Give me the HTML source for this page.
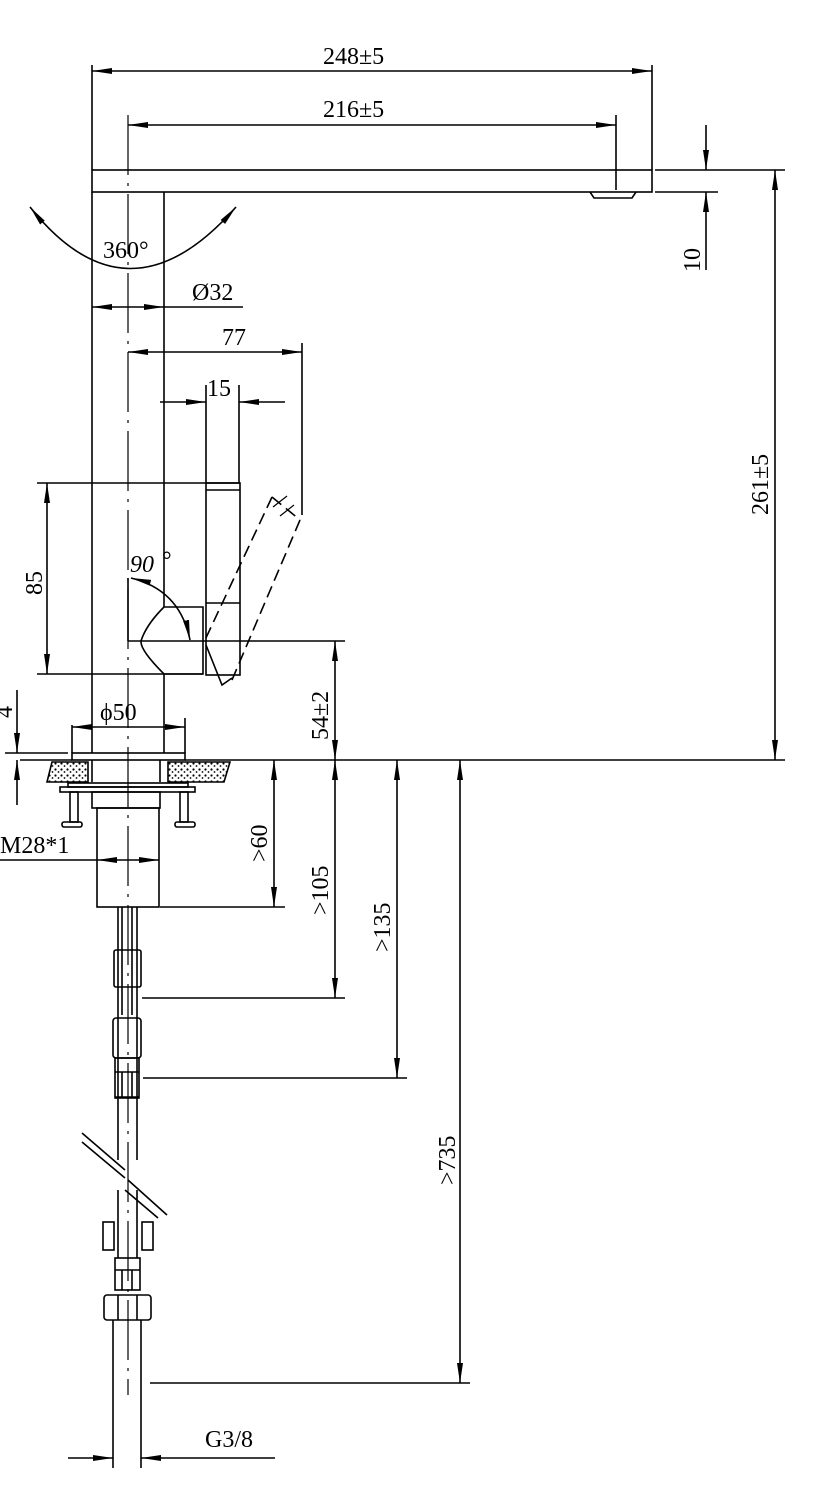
<!DOCTYPE html>
<html><head><style>body{margin:0;background:#fff}svg{display:block}text{font-family:"Liberation Serif",serif;font-size:24px;fill:#000}</style></head>
<body>
<svg width="831" height="1500" viewBox="0 0 831 1500" xmlns="http://www.w3.org/2000/svg">
<defs>
<marker id="a" viewBox="0 0 20 8" refX="20" refY="4" markerWidth="20" markerHeight="8" markerUnits="userSpaceOnUse" orient="auto-start-reverse"><path d="M0,1 L20,4 L0,7z" fill="#000"/></marker>
<pattern id="h" width="6" height="6" patternUnits="userSpaceOnUse"><rect width="6" height="6" fill="#fff"/><circle cx="1.5" cy="1.5" r="1.1" fill="#000"/><circle cx="4.5" cy="4" r="0.9" fill="#000"/></pattern>
</defs>
<g stroke="#000" stroke-width="1.6" fill="none">
<rect x="92" y="170" width="560" height="22"/>
<path d="M590,192 L594,198 L632,198 L636,192"/>
<line x1="92" y1="192" x2="92" y2="753"/>
<line x1="164" y1="192" x2="164" y2="607"/>
<line x1="164" y1="674" x2="164" y2="753"/>
<line x1="128" y1="115" x2="128" y2="1395" stroke-width="1.2" stroke-dasharray="60,8,3,8"/>
<line x1="37" y1="483" x2="240" y2="483"/>
<line x1="37" y1="674" x2="203" y2="674"/>
<rect x="206" y="483" width="34" height="192"/>
<line x1="206" y1="490" x2="240" y2="490"/>
<line x1="206" y1="603" x2="240" y2="603"/>
<line x1="128" y1="578" x2="128" y2="641"/>
<line x1="128" y1="641" x2="345" y2="641"/>
<path d="M164,607 L203,607 L203,674 L164,674 Q140,650 141,641 Q146,625 164,607"/>
<path d="M206,645 L222,685 L232,678"/>
<g stroke-dasharray="12,6"><path d="M272,497 L205,640"/><path d="M300,520 L232,680"/><path d="M272,497 L300,520"/></g>
<line x1="273" y1="507" x2="287" y2="496" stroke-width="1.2"/>
<line x1="280" y1="516" x2="294" y2="505" stroke-width="1.2"/>
<path d="M131,578 Q180,590 190,640" marker-start="url(#a)" marker-end="url(#a)"/>
<path d="M30,207 Q128,330 236,207" marker-start="url(#a)" marker-end="url(#a)"/>
<rect x="72" y="753" width="113" height="7"/>
<line x1="185" y1="760" x2="785" y2="760"/>
<line x1="20" y1="760" x2="72" y2="760"/>
<line x1="5" y1="753" x2="68" y2="753"/>
<path d="M52,762 L88,762 L88,782 L47,782 Z" fill="url(#h)"/>
<path d="M168,762 L230,762 L224,782 L168,782 Z" fill="url(#h)"/>
<line x1="92" y1="760" x2="92" y2="782"/><line x1="160" y1="760" x2="160" y2="782"/>
<rect x="68" y="783" width="120" height="4"/><rect x="60" y="787" width="135" height="5"/>
<rect x="70" y="792" width="8" height="30"/><rect x="180" y="792" width="8" height="30"/>
<rect x="62" y="822" width="20" height="5" rx="2"/><rect x="175" y="822" width="20" height="5" rx="2"/>
<rect x="92" y="792" width="68" height="16"/>
<rect x="97" y="808" width="62" height="99"/>
<!-- hose upper -->
<line x1="118" y1="907" x2="118" y2="1160"/><line x1="137" y1="907" x2="137" y2="1160"/>
<line x1="122" y1="907" x2="122" y2="1015"/><line x1="132" y1="907" x2="132" y2="1015"/>
<rect x="114" y="950" width="27" height="37" rx="2"/>
<rect x="113" y="1018" width="28" height="40" rx="3"/>
<rect x="115" y="1058" width="24" height="40"/>
<line x1="115" y1="1072" x2="139" y2="1072"/><line x1="115" y1="1097" x2="139" y2="1097"/>
<line x1="122" y1="1072" x2="122" y2="1097"/><line x1="132" y1="1072" x2="132" y2="1097"/>
<!-- hose lower -->
<line x1="118" y1="1190" x2="118" y2="1258"/><line x1="137" y1="1190" x2="137" y2="1258"/>
<rect x="103" y="1222" width="11" height="28"/><rect x="142" y="1222" width="11" height="28"/>
<rect x="115" y="1258" width="25" height="32"/>
<line x1="115" y1="1270" x2="140" y2="1270"/>
<line x1="122" y1="1270" x2="122" y2="1290"/><line x1="132" y1="1270" x2="132" y2="1290"/>
<rect x="104" y="1295" width="47" height="25" rx="3"/>
<line x1="118" y1="1295" x2="118" y2="1320"/><line x1="137" y1="1295" x2="137" y2="1320"/>
<!-- break -->
<line x1="82" y1="1133" x2="125" y2="1170"/>
<line x1="82" y1="1142" x2="125" y2="1178"/>
<line x1="128" y1="1180" x2="167" y2="1215"/><line x1="125" y1="1190" x2="158" y2="1218"/>
<line x1="113" y1="1320" x2="113" y2="1468"/><line x1="141" y1="1320" x2="141" y2="1468"/>
<line x1="68" y1="1458" x2="113" y2="1458" marker-end="url(#a)"/>
<line x1="275" y1="1458" x2="141" y2="1458" marker-end="url(#a)"/>
<line x1="92" y1="65" x2="92" y2="170"/><line x1="652" y1="65" x2="652" y2="170"/>
<line x1="92" y1="71" x2="652" y2="71" marker-start="url(#a)" marker-end="url(#a)"/>
<line x1="616" y1="115" x2="616" y2="190"/>
<line x1="128" y1="125" x2="616" y2="125" marker-start="url(#a)" marker-end="url(#a)"/>
<line x1="92" y1="307" x2="164" y2="307" marker-start="url(#a)" marker-end="url(#a)"/>
<line x1="164" y1="307" x2="243" y2="307"/>
<line x1="302" y1="343" x2="302" y2="515"/>
<line x1="128" y1="352" x2="302" y2="352" marker-start="url(#a)" marker-end="url(#a)"/>
<line x1="206" y1="385" x2="206" y2="483"/><line x1="239" y1="385" x2="239" y2="483"/>
<line x1="160" y1="402" x2="206" y2="402" marker-end="url(#a)"/>
<line x1="285" y1="402" x2="239" y2="402" marker-end="url(#a)"/>
<line x1="47" y1="483" x2="47" y2="674" marker-start="url(#a)" marker-end="url(#a)"/>
<line x1="17" y1="690" x2="17" y2="753" marker-end="url(#a)"/>
<line x1="17" y1="805" x2="17" y2="760" marker-end="url(#a)"/>
<line x1="335" y1="641" x2="335" y2="760" marker-start="url(#a)" marker-end="url(#a)"/>
<line x1="72" y1="725" x2="72" y2="753"/><line x1="185" y1="718" x2="185" y2="753"/>
<line x1="72" y1="727" x2="92" y2="727" marker-start="url(#a)"/>
<line x1="164" y1="727" x2="185" y2="727" marker-end="url(#a)"/>
<line x1="92" y1="727" x2="164" y2="727"/>
<line x1="0" y1="860" x2="97" y2="860"/>
<line x1="97" y1="860" x2="159" y2="860" marker-start="url(#a)" marker-end="url(#a)"/>
<line x1="160" y1="907" x2="285" y2="907"/>
<line x1="274" y1="760" x2="274" y2="907" marker-start="url(#a)" marker-end="url(#a)"/>
<line x1="142" y1="998" x2="345" y2="998"/>
<line x1="335" y1="760" x2="335" y2="998" marker-start="url(#a)" marker-end="url(#a)"/>
<line x1="143" y1="1078" x2="407" y2="1078"/>
<line x1="397" y1="760" x2="397" y2="1078" marker-start="url(#a)" marker-end="url(#a)"/>
<line x1="150" y1="1383" x2="470" y2="1383"/>
<line x1="460" y1="760" x2="460" y2="1383" marker-start="url(#a)" marker-end="url(#a)"/>
<line x1="655" y1="170" x2="785" y2="170"/>
<line x1="655" y1="192" x2="718" y2="192"/>
<line x1="775" y1="170" x2="775" y2="760" marker-start="url(#a)" marker-end="url(#a)"/>
<line x1="706" y1="125" x2="706" y2="170" marker-end="url(#a)"/>
<line x1="706" y1="270" x2="706" y2="192" marker-end="url(#a)"/>
</g>
<text x="323" y="64">248±5</text>
<text x="323" y="117">216±5</text>
<text x="103" y="258">360°</text>
<text x="192" y="300">Ø32</text>
<text x="222" y="345">77</text>
<text x="207" y="396">15</text>
<text x="130" y="572" font-style="italic">90</text><text x="162" y="568" font-size="16">°</text>
<text x="100" y="720">ϕ50</text>
<text x="0" y="853">M28*1</text>
<text x="205" y="1447">G3/8</text>
<text transform="translate(42,595) rotate(-90)">85</text>
<text transform="translate(12,718) rotate(-90)">4</text>
<text transform="translate(328,740) rotate(-90)">54±2</text>
<text transform="translate(267,862) rotate(-90)">&gt;60</text>
<text transform="translate(328,915) rotate(-90)">&gt;105</text>
<text transform="translate(390,952) rotate(-90)">&gt;135</text>
<text transform="translate(455,1185) rotate(-90)">&gt;735</text>
<text transform="translate(768,515) rotate(-90)">261±5</text>
<text transform="translate(700,272) rotate(-90)">10</text>
</svg>
</body></html>
